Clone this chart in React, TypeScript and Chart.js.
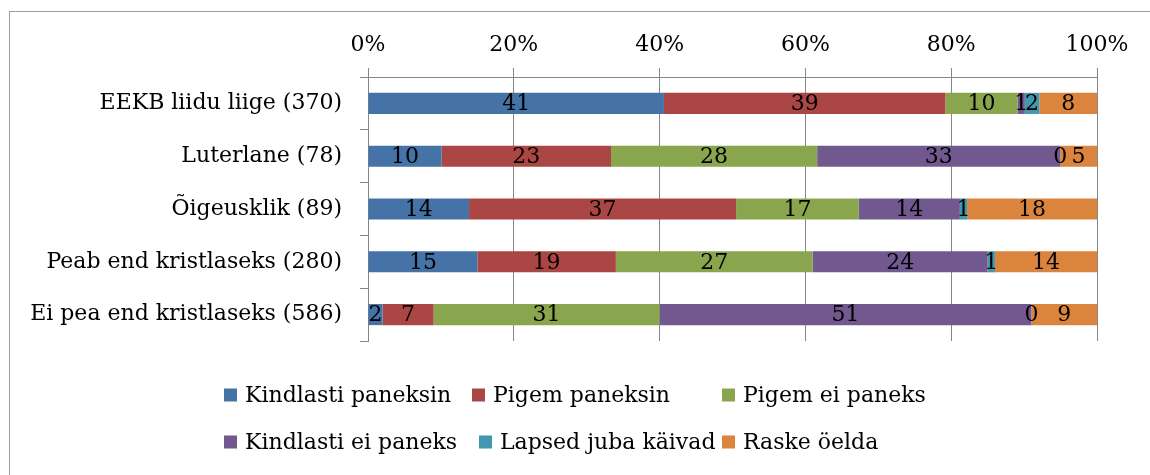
import React, { useEffect, useRef } from "react";
import { Chart, registerables } from "chart.js";

Chart.register(...registerables);

const categories = [
  "EEKB liidu liige (370)",
  "Luterlane (78)",
  "Õigeusklik (89)",
  "Peab end kristlaseks (280)",
  "Ei pea end kristlaseks (586)",
];
const seriesNames = [
  "Kindlasti paneksin",
  "Pigem paneksin",
  "Pigem ei paneks",
  "Kindlasti ei paneks",
  "Lapsed juba käivad",
  "Raske öelda",
];
const kindlastiPaneksin = [41, 10, 14, 15, 2];
const pigemPaneksin = [39, 23, 37, 19, 7];
const pigemEiPaneks = [10, 28, 17, 27, 31];
const kindlastiEiPaneks = [1, 33, 14, 24, 51];
const lapsedJubaKaivad = [2, 0, 1, 1, 0];
const raskeOelda = [8, 5, 18, 14, 9];
const tickLabels = ["0%", "20%", "40%", "60%", "80%", "100%"];
const colors = ["#4572A7", "#AA4643", "#89A54E", "#71588F", "#4198AF", "#DB843D"];

const rawSeries = [
  kindlastiPaneksin,
  pigemPaneksin,
  pigemEiPaneks,
  kindlastiEiPaneks,
  lapsedJubaKaivad,
  raskeOelda,
];

const FONT_FAMILY = "'DejaVu Serif', serif";
const FONT_SIZE = 22;
const GRID = "#868686";

const totals = categories.map((_, ci) =>
  rawSeries.reduce((s, arr) => s + arr[ci], 0)
);
const percentSeries = rawSeries.map((arr) =>
  arr.map((v, ci) => (v / totals[ci]) * 100)
);

const valueLabels = {
  id: "valueLabels",
  afterDatasetsDraw(chart: any) {
    const ctx = chart.ctx;
    ctx.save();
    ctx.font = `${FONT_SIZE}px ${FONT_FAMILY}`;
    ctx.fillStyle = "#000";
    ctx.textAlign = "center";
    ctx.textBaseline = "middle";
    chart.data.datasets.forEach((_: any, di: number) => {
      const meta = chart.getDatasetMeta(di);
      meta.data.forEach((bar: any, i: number) => {
        const p = bar.getProps(["x", "base", "y"], true);
        ctx.fillText(String(rawSeries[di][i]), (p.x + p.base) / 2, p.y + 1);
      });
    });
    ctx.restore();
  },
};

// legend laid out in a 3-column grid, like the original
const legendGrid = {
  id: "legendGrid",
  afterDraw(chart: any) {
    const ctx = chart.ctx;
    const rows = [
      { y: 395, xs: [224, 472, 722] },
      { y: 442, xs: [224, 479, 722] },
    ];
    const box = 13;
    ctx.save();
    ctx.font = `${FONT_SIZE}px ${FONT_FAMILY}`;
    ctx.textBaseline = "middle";
    ctx.textAlign = "left";
    seriesNames.forEach((name, i) => {
      const r = rows[Math.floor(i / 3)];
      const x = r.xs[i % 3];
      ctx.fillStyle = colors[i];
      ctx.fillRect(x, r.y - box / 2, box, box);
      ctx.fillStyle = "#000";
      ctx.fillText(name, x + 21, r.y + 1);
    });
    ctx.restore();
  },
};

export default function App() {
  const ref = useRef<HTMLCanvasElement | null>(null);

  useEffect(() => {
    if (!ref.current) return;
    const font = { family: FONT_FAMILY, size: FONT_SIZE };
    const chart = new Chart(ref.current, {
      type: "bar",
      data: {
        labels: categories,
        datasets: seriesNames.map((name, i) => ({
          label: name,
          data: percentSeries[i],
          backgroundColor: colors[i],
          borderWidth: 0,
          categoryPercentage: 1,
          barPercentage: 0.4,
        })),
      },
      options: {
        indexAxis: "y",
        responsive: false,
        animation: false,
        layout: { padding: { left: 0, top: 0, right: 53, bottom: 134 } },
        plugins: {
          legend: { display: false },
          tooltip: { enabled: false },
        },
        scales: {
          x: {
            position: "top",
            stacked: true,
            min: 0,
            max: 100,
            ticks: {
              stepSize: 20,
              callback: (_v: any, i: number) => tickLabels[i],
              color: "#000",
              font,
              padding: 10,
              maxRotation: 0,
            },
            grid: { color: GRID, tickLength: 9, drawTicks: true, lineWidth: 1 },
            border: { color: GRID },
            afterFit: (s: any) => {
              s.height = 77;
            },
          },
          y: {
            stacked: true,
            ticks: { color: "#000", font, padding: 18 },
            grid: {
              display: true,
              drawOnChartArea: false,
              tickLength: 8,
              color: GRID,
              offset: true,
            },
            border: { color: GRID },
            afterFit: (s: any) => {
              s.width = 368;
            },
          },
        },
      } as any,
      plugins: [valueLabels, legendGrid],
    });
    return () => chart.destroy();
  }, []);

  return (
    <div style={{ position: "fixed", left: 0, top: 0, width: 1150, height: 475, overflow: "hidden" }}>
      <div
        style={{
          position: "absolute",
          left: 9,
          top: 11,
          width: 1300,
          height: 600,
          borderTop: "1px solid #9c9c9c",
          borderLeft: "1px solid #9c9c9c",
          background: "#fff",
        }}
      />
      <canvas
        ref={ref}
        width={1150}
        height={475}
        style={{ position: "absolute", left: 0, top: 0, display: "block" }}
      />
    </div>
  );
}
